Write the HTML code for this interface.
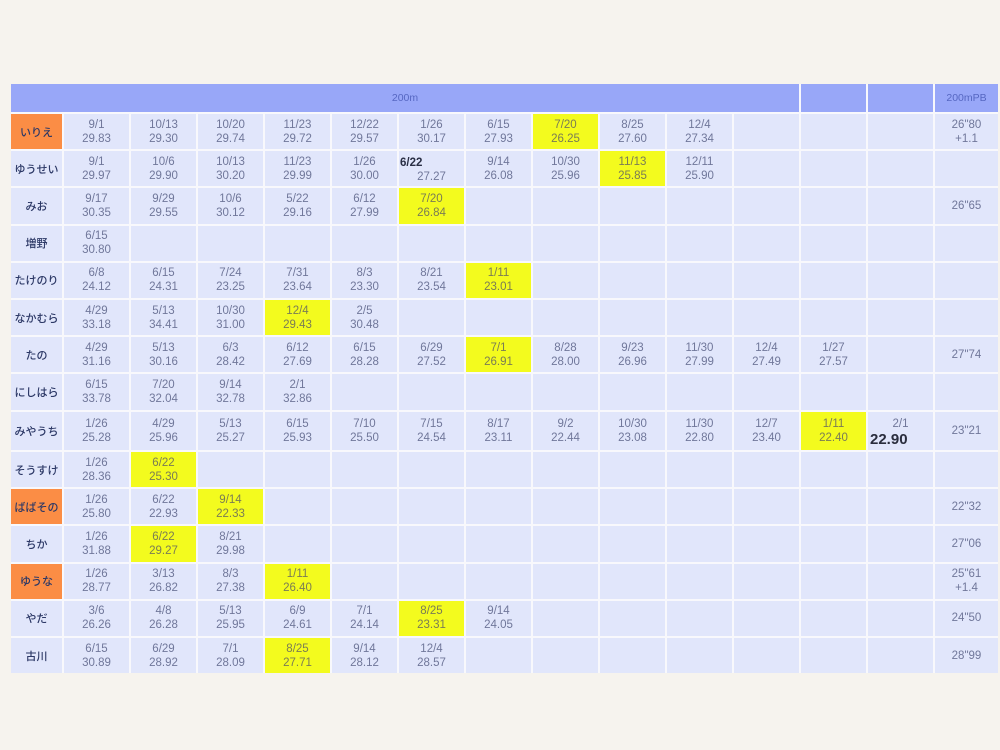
<!DOCTYPE html>
<html><head><meta charset="utf-8">
<style>
html,body{margin:0;padding:0;}
body{width:1000px;height:750px;background:#f6f3ee;position:relative;overflow:hidden;font-family:"Liberation Sans","Noto Sans CJK JP",sans-serif;}
.g{position:absolute;left:11px;top:84px;display:grid;grid-template-columns:51px repeat(13,65px) 63px;grid-template-rows:28px repeat(8,35.2px) 38.5px repeat(6,35.2px);gap:2px;background:#f8f8fc;}
.g>div{background:#e1e6fb;display:flex;align-items:center;justify-content:center;text-align:center;font-size:11.5px;line-height:14px;color:#70779a;position:relative;}
.g>div.h{background:#98a7f8;color:#5667c2;font-size:10.5px;}
.g>div.n{font-weight:500;color:#2c3866;font-size:11px;font-family:"Noto Sans CJK JP",sans-serif;}
.g>div.o{background:#fb8d45;}
.g>div.y{background:#f3fb1e;color:#7a7c55;}
.span{grid-column:span 12;}
.bd{position:absolute;left:1px;top:5px;font-weight:bold;color:#2a2f45;font-size:11.5px;}
.big{position:absolute;left:2px;top:19px;font-size:15px;font-weight:bold;color:#2a2d3d;line-height:18px;}
.sm{position:absolute;left:0;right:0;top:5px;text-align:center;}
</style></head><body>
<div class="g">
<div class="h span">200m</div><div class="h"></div><div class="h"></div><div class="h">200mPB</div>

<div class="n o">いりえ</div><div>9/1<br>29.83</div><div>10/13<br>29.30</div><div>10/20<br>29.74</div><div>11/23<br>29.72</div><div>12/22<br>29.57</div><div>1/26<br>30.17</div><div>6/15<br>27.93</div><div class="y">7/20<br>26.25</div><div>8/25<br>27.60</div><div>12/4<br>27.34</div><div></div><div></div><div></div><div>26"80<br>+1.1</div>

<div class="n">ゆうせい</div><div>9/1<br>29.97</div><div>10/6<br>29.90</div><div>10/13<br>30.20</div><div>11/23<br>29.99</div><div>1/26<br>30.00</div><div><span class="bd">6/22</span><span style="position:absolute;left:0;right:0;top:19px;text-align:center;">27.27</span></div><div>9/14<br>26.08</div><div>10/30<br>25.96</div><div class="y">11/13<br>25.85</div><div>12/11<br>25.90</div><div></div><div></div><div></div><div></div>

<div class="n">みお</div><div>9/17<br>30.35</div><div>9/29<br>29.55</div><div>10/6<br>30.12</div><div>5/22<br>29.16</div><div>6/12<br>27.99</div><div class="y">7/20<br>26.84</div><div></div><div></div><div></div><div></div><div></div><div></div><div></div><div>26"65</div>

<div class="n">増野</div><div>6/15<br>30.80</div><div></div><div></div><div></div><div></div><div></div><div></div><div></div><div></div><div></div><div></div><div></div><div></div><div></div>

<div class="n">たけのり</div><div>6/8<br>24.12</div><div>6/15<br>24.31</div><div>7/24<br>23.25</div><div>7/31<br>23.64</div><div>8/3<br>23.30</div><div>8/21<br>23.54</div><div class="y">1/11<br>23.01</div><div></div><div></div><div></div><div></div><div></div><div></div><div></div>

<div class="n">なかむら</div><div>4/29<br>33.18</div><div>5/13<br>34.41</div><div>10/30<br>31.00</div><div class="y">12/4<br>29.43</div><div>2/5<br>30.48</div><div></div><div></div><div></div><div></div><div></div><div></div><div></div><div></div><div></div>

<div class="n">たの</div><div>4/29<br>31.16</div><div>5/13<br>30.16</div><div>6/3<br>28.42</div><div>6/12<br>27.69</div><div>6/15<br>28.28</div><div>6/29<br>27.52</div><div class="y">7/1<br>26.91</div><div>8/28<br>28.00</div><div>9/23<br>26.96</div><div>11/30<br>27.99</div><div>12/4<br>27.49</div><div>1/27<br>27.57</div><div></div><div>27"74</div>

<div class="n">にしはら</div><div>6/15<br>33.78</div><div>7/20<br>32.04</div><div>9/14<br>32.78</div><div>2/1<br>32.86</div><div></div><div></div><div></div><div></div><div></div><div></div><div></div><div></div><div></div><div></div>

<div class="n">みやうち</div><div>1/26<br>25.28</div><div>4/29<br>25.96</div><div>5/13<br>25.27</div><div>6/15<br>25.93</div><div>7/10<br>25.50</div><div>7/15<br>24.54</div><div>8/17<br>23.11</div><div>9/2<br>22.44</div><div>10/30<br>23.08</div><div>11/30<br>22.80</div><div>12/7<br>23.40</div><div class="y">1/11<br>22.40</div><div><span class="sm">2/1</span><span class="big">22.90</span></div><div>23"21</div>

<div class="n">そうすけ</div><div>1/26<br>28.36</div><div class="y">6/22<br>25.30</div><div></div><div></div><div></div><div></div><div></div><div></div><div></div><div></div><div></div><div></div><div></div><div></div>

<div class="n o">ばばその</div><div>1/26<br>25.80</div><div>6/22<br>22.93</div><div class="y">9/14<br>22.33</div><div></div><div></div><div></div><div></div><div></div><div></div><div></div><div></div><div></div><div></div><div>22"32</div>

<div class="n">ちか</div><div>1/26<br>31.88</div><div class="y">6/22<br>29.27</div><div>8/21<br>29.98</div><div></div><div></div><div></div><div></div><div></div><div></div><div></div><div></div><div></div><div></div><div>27"06</div>

<div class="n o">ゆうな</div><div>1/26<br>28.77</div><div>3/13<br>26.82</div><div>8/3<br>27.38</div><div class="y">1/11<br>26.40</div><div></div><div></div><div></div><div></div><div></div><div></div><div></div><div></div><div></div><div>25"61<br>+1.4</div>

<div class="n">やだ</div><div>3/6<br>26.26</div><div>4/8<br>26.28</div><div>5/13<br>25.95</div><div>6/9<br>24.61</div><div>7/1<br>24.14</div><div class="y">8/25<br>23.31</div><div>9/14<br>24.05</div><div></div><div></div><div></div><div></div><div></div><div></div><div>24"50</div>

<div class="n">古川</div><div>6/15<br>30.89</div><div>6/29<br>28.92</div><div>7/1<br>28.09</div><div class="y">8/25<br>27.71</div><div>9/14<br>28.12</div><div>12/4<br>28.57</div><div></div><div></div><div></div><div></div><div></div><div></div><div></div><div>28"99</div>
</div>
</body></html>
